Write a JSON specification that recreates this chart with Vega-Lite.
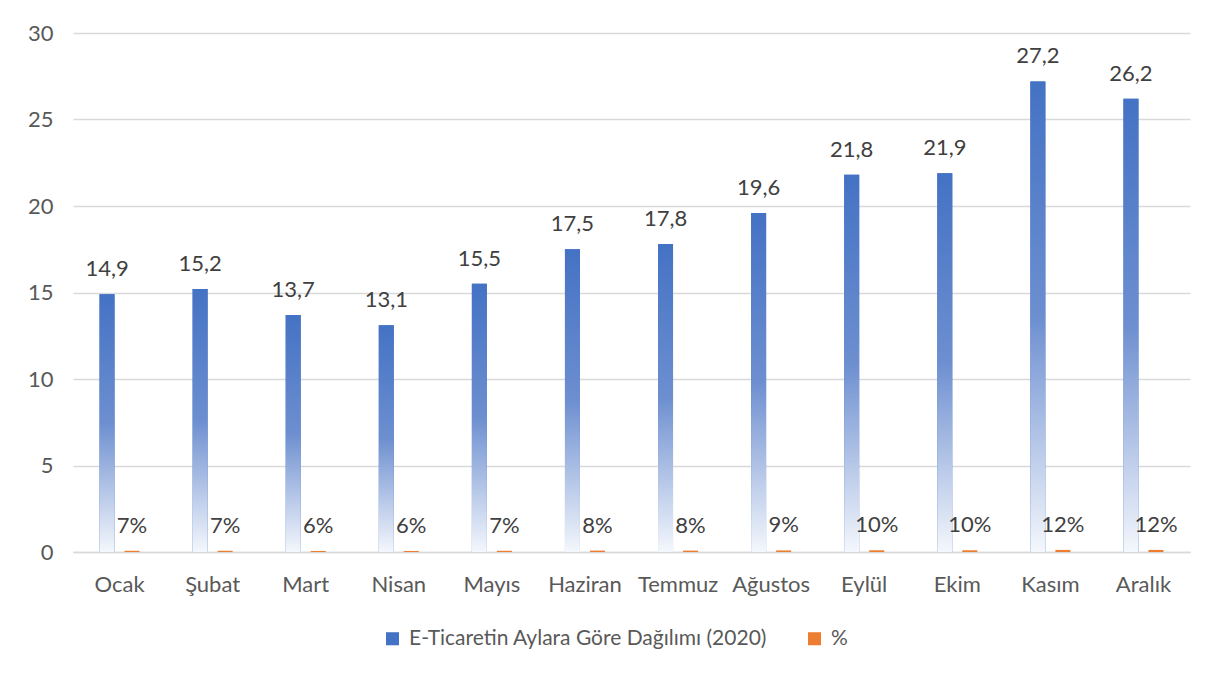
{
  "$schema": "https://vega.github.io/schema/vega-lite/v6.json",
  "width": 1117,
  "height": 519,
  "autosize": {"type": "none"},
  "padding": {"left": 73, "top": 33, "right": 30, "bottom": 125},
  "background": "white",
  "data": {
    "values": [
      {"ay": "Ocak", "seri": "E-Ticaretin Aylara Göre Dağılımı (2020)", "deger": 14.9},
      {"ay": "Şubat", "seri": "E-Ticaretin Aylara Göre Dağılımı (2020)", "deger": 15.2},
      {"ay": "Mart", "seri": "E-Ticaretin Aylara Göre Dağılımı (2020)", "deger": 13.7},
      {"ay": "Nisan", "seri": "E-Ticaretin Aylara Göre Dağılımı (2020)", "deger": 13.1},
      {"ay": "Mayıs", "seri": "E-Ticaretin Aylara Göre Dağılımı (2020)", "deger": 15.5},
      {"ay": "Haziran", "seri": "E-Ticaretin Aylara Göre Dağılımı (2020)", "deger": 17.5},
      {"ay": "Temmuz", "seri": "E-Ticaretin Aylara Göre Dağılımı (2020)", "deger": 17.8},
      {"ay": "Ağustos", "seri": "E-Ticaretin Aylara Göre Dağılımı (2020)", "deger": 19.6},
      {"ay": "Eylül", "seri": "E-Ticaretin Aylara Göre Dağılımı (2020)", "deger": 21.8},
      {"ay": "Ekim", "seri": "E-Ticaretin Aylara Göre Dağılımı (2020)", "deger": 21.9},
      {"ay": "Kasım", "seri": "E-Ticaretin Aylara Göre Dağılımı (2020)", "deger": 27.2},
      {"ay": "Aralık", "seri": "E-Ticaretin Aylara Göre Dağılımı (2020)", "deger": 26.2},
      {"ay": "Ocak", "seri": "%", "deger": 0.07},
      {"ay": "Şubat", "seri": "%", "deger": 0.07},
      {"ay": "Mart", "seri": "%", "deger": 0.06},
      {"ay": "Nisan", "seri": "%", "deger": 0.06},
      {"ay": "Mayıs", "seri": "%", "deger": 0.07},
      {"ay": "Haziran", "seri": "%", "deger": 0.08},
      {"ay": "Temmuz", "seri": "%", "deger": 0.08},
      {"ay": "Ağustos", "seri": "%", "deger": 0.09},
      {"ay": "Eylül", "seri": "%", "deger": 0.10},
      {"ay": "Ekim", "seri": "%", "deger": 0.10},
      {"ay": "Kasım", "seri": "%", "deger": 0.12},
      {"ay": "Aralık", "seri": "%", "deger": 0.12}
    ]
  },
  "transform": [
    {"calculate": "datum.seri === '%' ? format(datum.deger, '.0%') : replace(format(datum.deger, '.1f'), '.', ',')", "as": "etiket"}
  ],
  "encoding": {
    "x": {
      "field": "ay",
      "type": "nominal",
      "sort": ["Ocak", "Şubat", "Mart", "Nisan", "Mayıs", "Haziran", "Temmuz", "Ağustos", "Eylül", "Ekim", "Kasım", "Aralık"],
      "scale": {"paddingInner": 0.57, "paddingOuter": 0.285},
      "axis": {
        "title": null,
        "labelAngle": 0,
        "ticks": false,
        "domainColor": "#d9d9d9",
        "domainWidth": 1.5,
        "labelPadding": 22,
        "labelFontSize": 22,
        "labelColor": "#595959",
        "labelFont": "Lato"
      }
    },
    "xOffset": {
      "field": "seri",
      "type": "nominal",
      "scale": {"domain": ["E-Ticaretin Aylara Göre Dağılımı (2020)", "%"], "paddingInner": 0.4, "paddingOuter": 0}
    },
    "y": {
      "field": "deger",
      "type": "quantitative",
      "scale": {"domain": [0, 30], "nice": false},
      "axis": {
        "title": null,
        "values": [0, 5, 10, 15, 20, 25, 30],
        "domain": false,
        "ticks": false,
        "gridColor": "#d9d9d9",
        "gridWidth": 1.5,
        "labelPadding": 20,
        "labelFontSize": 22,
        "labelColor": "#595959",
        "labelFont": "Lato"
      }
    }
  },
  "layer": [
    {
      "mark": {"type": "bar"},
      "encoding": {
        "color": {
          "field": "seri",
          "type": "nominal",
          "scale": {"domain": ["E-Ticaretin Aylara Göre Dağılımı (2020)", "%"], "range": ["#4472C4", "#ED7D31"]},
          "legend": {
            "title": null,
            "orient": "none",
            "direction": "horizontal",
            "legendX": 309,
            "legendY": 595,
            "symbolType": "square",
            "symbolSize": 170,
            "symbolStrokeWidth": 0,
            "labelFontSize": 21,
            "labelLimit": 0,
            "labelColor": "#595959",
            "labelFont": "Lato",
            "columnPadding": 36,
            "labelOffset": 6
          }
        }
      }
    },
    {
      "transform": [{"filter": "datum.seri !== '%'"}],
      "mark": {
        "type": "bar",
        "fill": {
          "gradient": "linear",
          "x1": 0, "y1": 0, "x2": 0, "y2": 1,
          "stops": [
            {"offset": 0, "color": "#4472C4"},
            {"offset": 0.5, "color": "#6d8fd0"},
            {"offset": 1, "color": "#f4f7fc"}
          ]
        }
      },
      "encoding": {}
    },
    {
      "mark": {"type": "text", "baseline": "alphabetic", "dy": -18, "fontSize": 22, "font": "Lato", "color": "#404040"},
      "encoding": {"text": {"field": "etiket", "type": "nominal"}}
    }
  ],
  "config": {"view": {"stroke": null}}
}
